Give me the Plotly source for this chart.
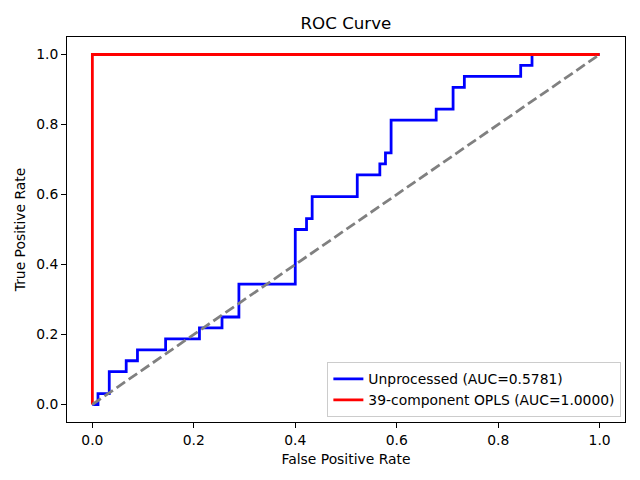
import plotly.graph_objects as go

# Unprocessed ROC curve (corner points)
fpr_unproc = [0.0, 0.0111, 0.0111, 0.0333, 0.0333, 0.0667, 0.0667, 0.0889, 0.0889,
              0.1444, 0.1444, 0.2111, 0.2111, 0.2556, 0.2556, 0.2889, 0.2889,
              0.4000, 0.4000, 0.4222, 0.4222, 0.4333, 0.4333, 0.5222, 0.5222,
              0.5667, 0.5667, 0.5778, 0.5778, 0.5889, 0.5889, 0.6778, 0.6778,
              0.7111, 0.7111, 0.7333, 0.7333, 0.8444, 0.8444, 0.8667, 0.8667, 1.0]
tpr_unproc = [0.0, 0.0, 0.03125, 0.03125, 0.09375, 0.09375, 0.125, 0.125, 0.15625,
              0.15625, 0.1875, 0.1875, 0.21875, 0.21875, 0.25, 0.25, 0.34375,
              0.34375, 0.5, 0.5, 0.53125, 0.53125, 0.59375, 0.59375, 0.65625,
              0.65625, 0.6875, 0.6875, 0.71875, 0.71875, 0.8125, 0.8125, 0.84375,
              0.84375, 0.90625, 0.90625, 0.9375, 0.9375, 0.96875, 0.96875, 1.0, 1.0]

# 39-component OPLS ROC curve
fpr_opls = [0.0, 0.0, 1.0]
tpr_opls = [0.0, 1.0, 1.0]

# Chance diagonal
diag_x = [0.0, 1.0]
diag_y = [0.0, 1.0]

auc_unproc = 0.5781
auc_opls = 1.0000

tick_vals = [0.0, 0.2, 0.4, 0.6, 0.8, 1.0]
tick_text = ["0.0", "0.2", "0.4", "0.6", "0.8", "1.0"]

FONT = "DejaVu Sans"
FS = 13.89

fig = go.Figure()
fig.add_trace(go.Scatter(x=fpr_unproc, y=tpr_unproc, mode="lines",
                         line=dict(color="#0000ff", width=2.78),
                         name=f"Unprocessed (AUC={auc_unproc:.4f})"))
fig.add_trace(go.Scatter(x=fpr_opls, y=tpr_opls, mode="lines",
                         line=dict(color="#ff0000", width=2.78),
                         name=f"39-component OPLS (AUC={auc_opls:.4f})"))
fig.add_trace(go.Scatter(x=diag_x, y=diag_y, mode="lines",
                         line=dict(color="gray", width=2.78, dash="10.3px,4.4px"),
                         showlegend=False))

axis_common = dict(showline=True, linecolor="black", linewidth=1.11, mirror=True,
                   showgrid=False, zeroline=False, ticks="outside", ticklen=4.86,
                   tickwidth=1.11, tickcolor="black",
                   tickfont=dict(family=FONT, size=FS, color="black"),
                   tickvals=tick_vals, ticktext=tick_text)

fig.update_layout(
    width=640, height=480,
    margin=dict(l=66.5, r=14.5, t=37, b=58),
    paper_bgcolor="white", plot_bgcolor="white",
    font=dict(family=FONT, color="black"),
    title=dict(text="ROC Curve", x=0.5405, xanchor="center", y=0.952, yanchor="middle",
               font=dict(family=FONT, size=16.67, color="black")),
    xaxis=dict(range=[-0.05, 1.05],
               title=dict(text="False Positive Rate", font=dict(family=FONT, size=FS), standoff=7),
               **axis_common),
    yaxis=dict(range=[-0.05, 1.05],
               title=dict(text="True Positive Rate", font=dict(family=FONT, size=FS), standoff=7),
               **axis_common),
    legend=dict(x=0.9935, y=0.012, xanchor="right", yanchor="bottom",
                bgcolor="rgba(255,255,255,0.8)", bordercolor="#cccccc", borderwidth=1,
                font=dict(family=FONT, size=FS, color="black"),
                itemwidth=30, tracegroupgap=0),
    showlegend=True,
)

fig.write_html("out.html", config={"displayModeBar": False},
               post_script="document.body.style.margin='0';document.body.style.padding='0';")
